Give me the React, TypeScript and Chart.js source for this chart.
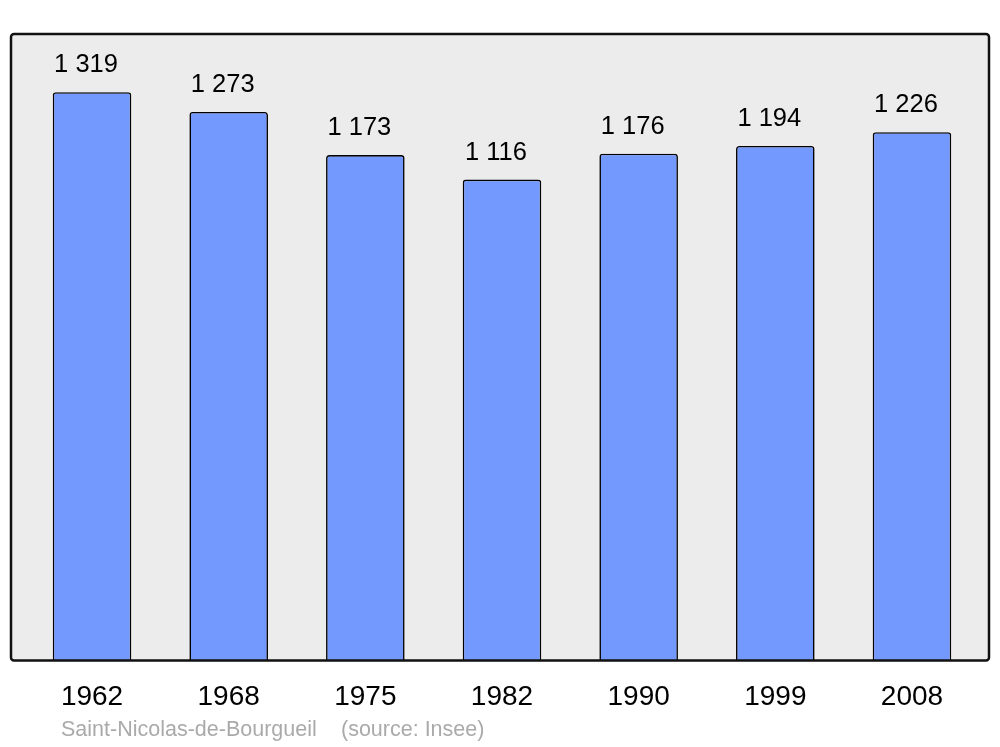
import React, { useEffect, useRef } from "react";
import { Chart, registerables } from "chart.js";

Chart.register(...registerables);

const years = ["1962", "1968", "1975", "1982", "1990", "1999", "2008"];
const population = [1319, 1273, 1173, 1116, 1176, 1194, 1226];
const commune = "Saint-Nicolas-de-Bourgueil";
const source = "(source: Insee)";

const fmt = (v: number) => {
  const s = String(v);
  return s.replace(/\B(?=(\d{3})+(?!\d))/g, " ");
};

export default function App() {
  const ref = useRef<HTMLCanvasElement | null>(null);
  useEffect(() => {
    if (!ref.current) return;
    const framePlugin = {
      id: "frame",
      beforeDatasetsDraw(chart: any) {
        const { ctx, chartArea } = chart;
        const l = chartArea.left - 12.7, r = chartArea.right + 8.7;
        ctx.save();
        ctx.fillStyle = "#ececec";
        ctx.beginPath();
        ctx.roundRect(l, chartArea.top, r - l, chartArea.bottom - chartArea.top, 3);
        ctx.fill();
        ctx.restore();
      },
      afterDatasetsDraw(chart: any) {
        const { ctx, chartArea } = chart;
        const l = chartArea.left - 12.7, r = chartArea.right + 8.7;
        ctx.save();
        // value labels
        const meta = chart.getDatasetMeta(0);
        ctx.fillStyle = "#000";
        ctx.font = "25.5px 'Liberation Sans', Arial, sans-serif";
        ctx.textAlign = "center";
        ctx.textBaseline = "middle";
        meta.data.forEach((bar: any, i: number) => {
          ctx.fillText(fmt(population[i]), bar.x - 6, bar.y - 27);
        });
        ctx.strokeStyle = "#111";
        ctx.lineWidth = 2.5;
        ctx.beginPath();
        ctx.roundRect(l, chartArea.top, r - l, chartArea.bottom - chartArea.top, 3);
        ctx.stroke();
        // caption
        ctx.fillStyle = "#aaaaaa";
        ctx.font = "21.5px 'Liberation Sans', Arial, sans-serif";
        ctx.textAlign = "left";
        ctx.textBaseline = "middle";
        ctx.fillText(commune, 61, 730);
        ctx.fillText(source, 341, 730);
        ctx.restore();
      },
    };
    const chart = new Chart(ref.current, {
      type: "bar",
      data: {
        labels: years,
        datasets: [
          {
            data: population,
            backgroundColor: "#7399ff",
            borderColor: "#000",
            borderWidth: 1.6,
            borderRadius: 3,
            borderSkipped: "bottom",
            barPercentage: 0.575,
            categoryPercentage: 1,
          },
        ],
      },
      options: {
        responsive: false,
        animation: false,
        layout: { padding: { left: 23.7, right: 19.7, top: 34, bottom: 13 } },
        plugins: { legend: { display: false }, tooltip: { enabled: false } },
        scales: {
          y: { display: false, min: 0, max: 1454 },
          x: {
            grid: { display: false, drawTicks: false },
            border: { display: false },
            ticks: {
              color: "#000",
              padding: 20,
              font: { size: 28, family: "'Liberation Sans', Arial, sans-serif" },
            },
          },
        },
      },
      plugins: [framePlugin],
    });
    return () => chart.destroy();
  }, []);
  return (
    <div style={{ position: "fixed", left: 0, top: 0, width: 1000, height: 747, background: "#fff" }}>
      <canvas ref={ref} width={1000} height={747} style={{ display: "block" }} />
    </div>
  );
}
